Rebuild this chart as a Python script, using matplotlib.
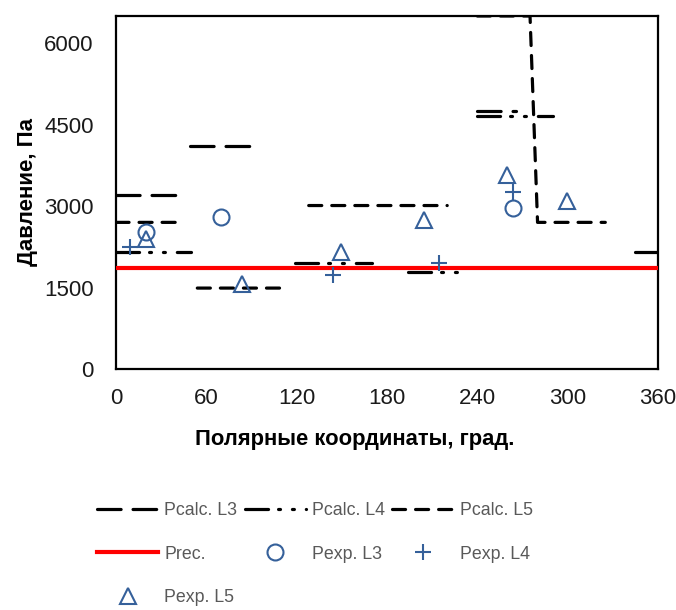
import numpy as np
import matplotlib
matplotlib.use("Agg")
import matplotlib.pyplot as plt

nan = np.nan

# calculated pressure, piecewise per zone (nan = gap between zones)
pcalc_l3_x = [0, 40, nan, 49, 90, nan, 240, 266]
pcalc_l3_y = [3200, 3200, nan, 4100, 4100, nan, 4750, 4750]

pcalc_l4_x = [0, 50, nan, 119, 170, nan, 194, 229, nan, 240, 290, nan, 345, 360]
pcalc_l4_y = [2150, 2150, nan, 1950, 1950, nan, 1790, 1790, nan, 4660, 4660, nan, 2150, 2150]

pcalc_l5_x = [0, 40, nan, 54, 109, nan, 128, 220, nan, 240, 275, 280, 325]
pcalc_l5_y = [2700, 2700, nan, 1490, 1490, nan, 3010, 3010, nan, 6500, 6500, 2700, 2700]

# recommended pressure
prec_x = [0, 360]
prec_y = [1860, 1860]

# experiment
pexp_l3_x = [20, 70, 264]
pexp_l3_y = [2520, 2800, 2960]

pexp_l4_x = [9, 144, 214.5, 264]
pexp_l4_y = [2245, 1730, 1950, 3260]

pexp_l5_x = [20, 84, 149.5, 204.5, 260, 299.5]
pexp_l5_y = [2390, 1560, 2150, 2740, 3570, 3090]

x_ticks = [0, 60, 120, 180, 240, 300, 360]
y_ticks = [0, 1500, 3000, 4500, 6000]

###
### plot
###

plt.rcParams['font.family'] = ['Liberation Sans', 'DejaVu Sans']
plt.rcParams['lines.scale_dashes'] = False

blue = '#35609a'

fig = plt.figure(figsize=(6.76, 6.10), dpi=100)
ax = fig.add_axes([116/676, 1 - 369/610, (658 - 116)/676, (369 - 16)/610])

l3, = ax.plot(pcalc_l3_x, pcalc_l3_y, color='k', lw=2.3,
              dashes=(17, 8.6), dash_capstyle='round', label='Pcalc. L3')
l4, = ax.plot(pcalc_l4_x, pcalc_l4_y, color='k', lw=2.3,
              dashes=(16.6, 7.2, 1.4, 8.6, 1.4, 8.6), dash_capstyle='round', label='Pcalc. L4')
l5, = ax.plot(pcalc_l5_x, pcalc_l5_y, color='k', lw=2.3,
              dashes=(9.4, 7.2), dash_capstyle='round', label='Pcalc. L5')
pr, = ax.plot(prec_x, prec_y, color='#ff0000', lw=3, label='Prec.', zorder=3)

e3, = ax.plot(pexp_l3_x, pexp_l3_y, ls='none', marker='o', ms=11.5, mfc='none',
              mec=blue, mew=1.5, label='Pexp. L3', zorder=4)
e4, = ax.plot(pexp_l4_x, pexp_l4_y, ls='none', marker='+', ms=12, mec=blue,
              mew=1.5, label='Pexp. L4', zorder=4)
e5, = ax.plot(pexp_l5_x, pexp_l5_y, ls='none', marker='^', ms=12, mfc='none',
              mec=blue, mew=1.5, label='Pexp. L5', zorder=4)

ax.set_xlim(0, 360)
ax.set_ylim(0, 6500)
ax.set_xticks(x_ticks)
ax.set_yticks(y_ticks)
ax.tick_params(length=0, labelsize=16, colors='#1a1a1a')
ax.tick_params(axis='x', pad=14)
ax.tick_params(axis='y', pad=16)
for s in ax.spines.values():
    s.set_linewidth(1.6)
    s.set_color('k')

# axis titles placed where the reference has them
ax.set_xlabel('Полярные координаты, град.', fontsize=15.8, fontweight='bold')
ax.xaxis.set_label_coords((355 - 116)/542, -(429 - 369)/353)
ax.set_ylabel('Давление, Па', fontsize=16, fontweight='bold')
ax.yaxis.set_label_coords(-(116 - 38)/542, 0.5)

# legend fills column by column, so order handles to read row by row
handles = [l3, pr, e5, l4, e3, l5, e4]
leg = fig.legend(handles=handles, loc='upper left', bbox_to_anchor=(88/676, 1 - 493/610),
                 ncol=3, frameon=False, fontsize=12.8, handlelength=3.45,
                 columnspacing=0.4, labelspacing=1.5, handletextpad=0.35, borderpad=0)
for t in leg.get_texts():
    t.set_color('#595959')

fig.savefig('out.png', dpi=100)
